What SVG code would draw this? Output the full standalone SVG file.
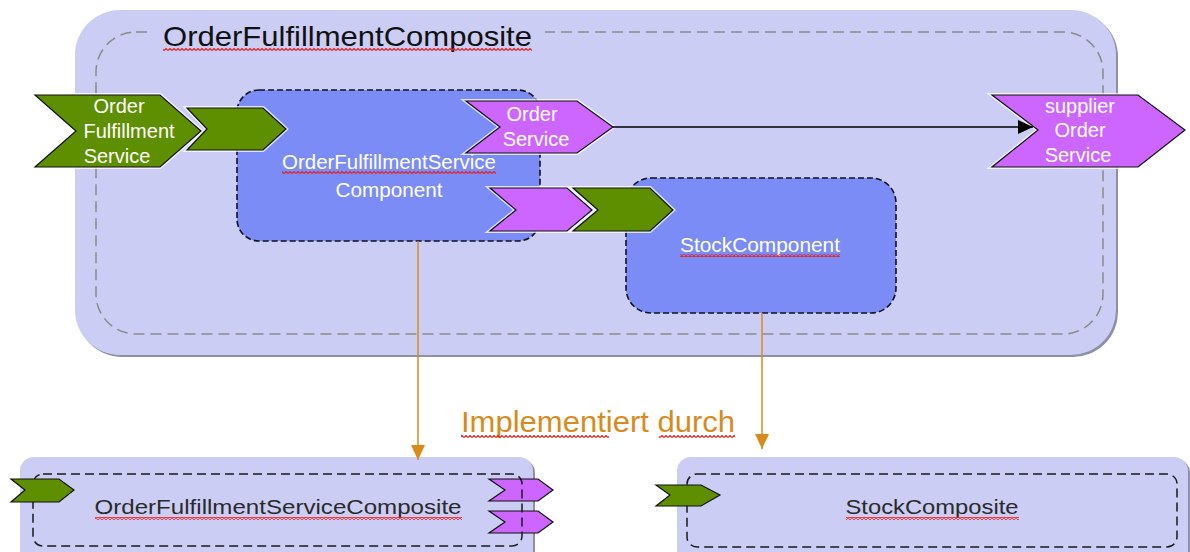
<svg xmlns="http://www.w3.org/2000/svg" width="1190" height="552" viewBox="0 0 1190 552">
<style>
text{font-family:"Liberation Sans",Arial,sans-serif}
.comp{fill:#cbcdf5}
.shadow{fill:#8d8ea8}
.dashg{fill:none;stroke:#8a8a8a;stroke-width:1.5;stroke-dasharray:11 6}
.dashk{fill:none;stroke:#1a1a1a;stroke-width:1.5;stroke-dasharray:9 5}
.cbox{fill:#7b8cf6;stroke:#111122;stroke-width:1.6;stroke-dasharray:6 3}
.halo{fill:none;stroke:#ffffff;stroke-width:4;stroke-opacity:.75;stroke-linejoin:miter}
.green{fill:#5e8f00;stroke:#111;stroke-width:1.2}
.pink{fill:#cc66ff;stroke:#111;stroke-width:1.2}
.wt{fill:#ffffff;font-size:20px;text-anchor:middle}
.dk{fill:#2a2a2a;font-size:20px;text-anchor:middle}
.orange{stroke:#d98a1c;stroke-width:1.5;fill:none}
.sq{fill:url(#squig)}
</style>
<defs>
<pattern id="squig" patternUnits="userSpaceOnUse" width="4" height="3">
<polyline points="0,2.5 2,0.5 4,2.5" fill="none" stroke="#e8201a" stroke-width="1.2"/>
</pattern>
<marker id="ahO" markerUnits="userSpaceOnUse" markerWidth="16" markerHeight="16" refX="15" refY="7" orient="auto">
<path d="M0,0 L15,7 L0,14 z" fill="#d98a1c"/>
</marker>
<marker id="ahK" markerUnits="userSpaceOnUse" markerWidth="16" markerHeight="16" refX="15" refY="7" orient="auto">
<path d="M0,0 L15,7 L0,14 z" fill="#000"/>
</marker>
</defs>

<g id="OrderFulfillmentComposite">
<rect class="shadow" x="77" y="12" width="1041" height="345" rx="45"/>
<rect class="comp" x="75" y="10" width="1041" height="345" rx="45"/>
<rect class="dashg" x="96" y="32" width="1007" height="302" rx="40"/>
<rect class="comp" x="152" y="27" width="393" height="10"/>
<text x="163" y="46" font-size="28" fill="#111" textLength="369" lengthAdjust="spacingAndGlyphs">OrderFulfillmentComposite</text>
<rect class="sq" x="163" y="48" width="369" height="3"/>
</g>

<g id="OrderFulfillmentServiceComponent">
<rect class="cbox" x="237" y="90" width="303" height="151" rx="22"/>
<text class="wt" x="389" y="169" textLength="214" lengthAdjust="spacingAndGlyphs">OrderFulfillmentService</text>
<rect class="sq" x="282" y="171" width="214" height="3"/>
<text class="wt" x="389" y="197" textLength="107" lengthAdjust="spacingAndGlyphs">Component</text>
</g>

<g id="StockComponent">
<rect class="cbox" x="626" y="178" width="270" height="135" rx="25"/>
<text class="wt" x="760" y="252" textLength="160" lengthAdjust="spacingAndGlyphs">StockComponent</text>
<rect class="sq" x="680" y="254" width="160" height="3"/>
</g>

<g id="OrderFulfillmentService">
<polygon class="halo" points="35,95 160,95 201,131 160,167 35,167 76,131"/>
<polygon class="green" points="35,95 160,95 201,131 160,167 35,167 76,131"/>
<text class="wt" x="119" y="113">Order</text>
<text class="wt" x="129" y="138">Fulfillment</text>
<text class="wt" x="117" y="163">Service</text>
</g>

<g id="OFSComponentService">
<polygon class="halo" points="187,108 263,108 286,129 263,150 187,150 207,129"/>
<polygon class="green" points="187,108 263,108 286,129 263,150 187,150 207,129"/>
</g>

<g id="OrderServiceReference">
<polygon class="halo" points="466,101 577,101 613,127 577,153 466,153 500,127"/>
<polygon class="pink" points="466,101 577,101 613,127 577,153 466,153 500,127"/>
<text class="wt" x="532" y="121">Order</text>
<text class="wt" x="536" y="146">Service</text>
</g>

<g id="StockReference">
<polygon class="halo" points="490,188 567,188 592,210 567,231 490,231 516,210"/>
<polygon class="pink" points="490,188 567,188 592,210 567,231 490,231 516,210"/>
</g>

<g id="StockService">
<polygon class="halo" points="573,188 650,188 673,210 650,231 573,231 598,210"/>
<polygon class="green" points="573,188 650,188 673,210 650,231 573,231 598,210"/>
</g>

<g id="supplierOrderService">
<polygon class="halo" points="992,95 1138,95 1185,130 1138,167 992,167 1038,130"/>
<polygon class="pink" points="992,95 1138,95 1185,130 1138,167 992,167 1038,130"/>
<text class="wt" x="1080" y="113">supplier</text>
<text class="wt" x="1080" y="137">Order</text>
<text class="wt" x="1078" y="162">Service</text>
</g>

<g id="OrderFulfillmentServiceComposite">
<rect class="shadow" x="22" y="459" width="513" height="110" rx="14"/>
<rect class="comp" x="20" y="457" width="513" height="110" rx="14"/>
<polygon class="pink" points="489,479 538,479 553,490 538,501 489,501 505,490"/>
<polygon class="pink" points="489,511 538,511 553,522 538,533 489,533 505,522"/>
<rect class="dashk" x="33" y="474" width="489" height="72" rx="10"/>
<polygon class="green" points="11,479 59,479 74,490 59,502 11,502 25,490"/>
<text class="dk" x="278" y="514" textLength="367" lengthAdjust="spacingAndGlyphs">OrderFulfillmentServiceComposite</text>
<rect class="sq" x="95" y="517" width="367" height="3"/>
</g>

<g id="StockComposite">
<rect class="shadow" x="679" y="459" width="511" height="110" rx="14"/>
<rect class="comp" x="677" y="457" width="511" height="110" rx="14"/>
<rect class="dashk" x="687" y="474" width="490" height="73" rx="10"/>
<polygon class="green" points="656,485 701,485 720,495 701,506 656,506 670,495"/>
<text class="dk" x="932" y="514" textLength="173" lengthAdjust="spacingAndGlyphs">StockComposite</text>
<rect class="sq" x="846" y="517" width="173" height="3"/>
</g>

<g id="connectors">
<line x1="613" y1="127" x2="1033" y2="127" stroke="#000" stroke-width="1.5" marker-end="url(#ahK)"/>
<line class="orange" x1="418" y1="241" x2="418" y2="460" marker-end="url(#ahO)"/>
<line class="orange" x1="762" y1="313" x2="762" y2="449" marker-end="url(#ahO)"/>
</g>

<g id="label">
<text x="461" y="432" font-size="30" fill="#d98a1c" textLength="274" lengthAdjust="spacingAndGlyphs">Implementiert durch</text>
<rect class="sq" x="461" y="435" width="148" height="3"/>
<rect class="sq" x="659" y="435" width="76" height="3"/>
</g>
</svg>
